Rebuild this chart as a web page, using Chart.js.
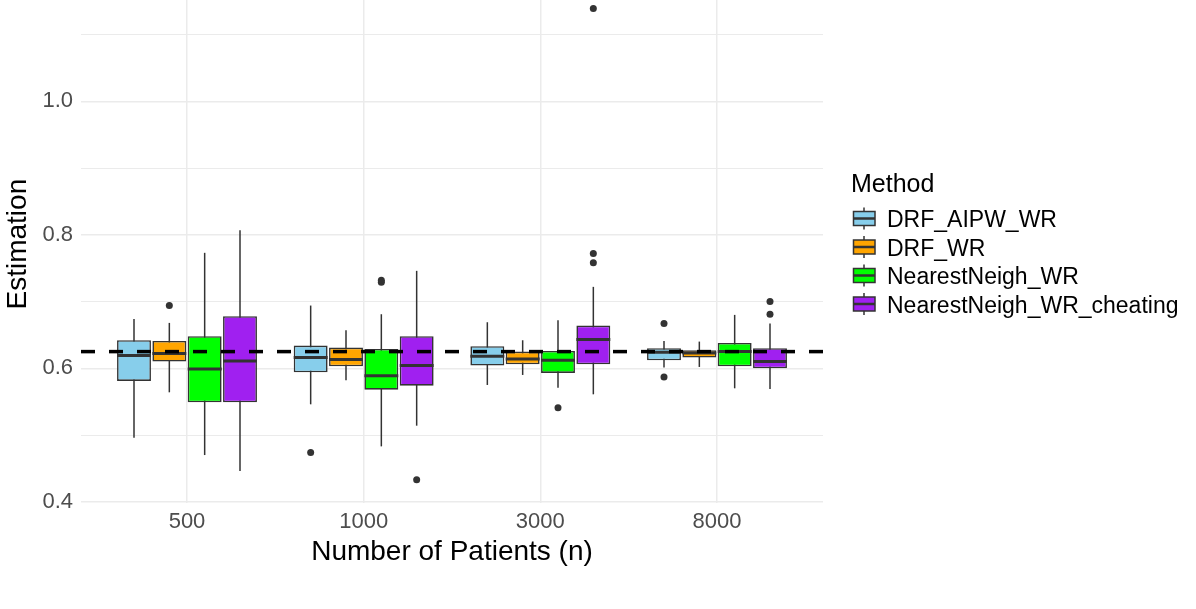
<!DOCTYPE html>
<html>
<head>
<meta charset="utf-8">
<script src="https://cdn.jsdelivr.net/npm/chart.js@4"></script>
<style>
  html, body { margin: 0; padding: 0; background: #fff; overflow: hidden; }
  #wrap { position: relative; width: 1196px; height: 609px; overflow: hidden; }
  #chart { position: absolute; left: 0; top: -15px; }
</style>
</head>
<body>
<div id="wrap"><canvas id="chart" width="1196" height="624"></canvas></div>
<script>
"use strict";

const CATEGORIES = ["500", "1000", "3000", "8000"];
const METHODS = ["DRF_AIPW_WR", "DRF_WR", "NearestNeigh_WR", "NearestNeigh_WR_cheating"];
const COLORS = ["#87CEEB", "#FFA500", "#00FF00", "#A020F0"];
const TRUE_VALUE = 0.625;
const Y_TICKS = [0.4, 0.5, 0.6, 0.7, 0.8, 0.9, 1.0, 1.1];
const Y_MAJOR = [0.4, 0.6, 0.8, 1.0];

// rows = methods, columns = sample sizes
const LOWER = [
  [0.496, 0.546, 0.575, 0.601],
  [0.564, 0.582, 0.590, 0.602],
  [0.470, 0.483, 0.571, 0.570],
  [0.446, 0.514, 0.561, 0.569],
];
const Q1 = [
  [0.581, 0.594, 0.604, 0.612],
  [0.610, 0.603, 0.606, 0.616],
  [0.549, 0.568, 0.593, 0.603],
  [0.549, 0.574, 0.606, 0.600],
];
const MEDIAN = [
  [0.619, 0.616, 0.618, 0.624],
  [0.622, 0.613, 0.614, 0.623],
  [0.599, 0.589, 0.612, 0.625],
  [0.611, 0.604, 0.643, 0.610],
];
const Q3 = [
  [0.642, 0.634, 0.633, 0.630],
  [0.641, 0.631, 0.625, 0.627],
  [0.648, 0.629, 0.626, 0.638],
  [0.678, 0.648, 0.664, 0.630],
];
const UPPER = [
  [0.674, 0.694, 0.669, 0.641],
  [0.668, 0.657, 0.642, 0.640],
  [0.773, 0.681, 0.672, 0.680],
  [0.807, 0.746, 0.722, 0.667],
];
const OUTLIERS = [
  [[], [0.474], [], [0.667, 0.587]],
  [[0.694], [], [], []],
  [[], [0.729, 0.732], [0.541], []],
  [[], [0.433], [1.139, 0.772, 0.758], [0.700, 0.681]],
];

const FONT = '"Liberation Sans", Arial, sans-serif';
const INK = "#333333";

function eachBox(chart, fn) {
  chart.data.datasets.forEach((ds, m) => {
    const meta = chart.getDatasetMeta(m);
    meta.data.forEach((el, i) => fn(el, m, i));
  });
}

const boxExtras = {
  id: "boxExtras",
  beforeDatasetsDraw(chart) {
    const ctx = chart.ctx, y = chart.scales.y;
    ctx.save();
    ctx.strokeStyle = INK;
    ctx.lineWidth = 1.5;
    eachBox(chart, (el, m, i) => {
      ctx.beginPath();
      ctx.moveTo(el.x, y.getPixelForValue(LOWER[m][i]));
      ctx.lineTo(el.x, y.getPixelForValue(UPPER[m][i]));
      ctx.stroke();
    });
    ctx.restore();
  },
  afterDatasetsDraw(chart) {
    const ctx = chart.ctx, y = chart.scales.y, area = chart.chartArea;
    ctx.save();
    ctx.strokeStyle = INK;
    ctx.fillStyle = INK;
    ctx.lineWidth = 3;
    eachBox(chart, (el, m, i) => {
      const py = y.getPixelForValue(MEDIAN[m][i]);
      ctx.beginPath();
      ctx.moveTo(el.x - el.width / 2, py);
      ctx.lineTo(el.x + el.width / 2, py);
      ctx.stroke();
      OUTLIERS[m][i].forEach(v => {
        ctx.beginPath();
        ctx.arc(el.x, y.getPixelForValue(v), 3.5, 0, Math.PI * 2);
        ctx.fill();
      });
    });
    // reference line
    const ty = y.getPixelForValue(TRUE_VALUE);
    ctx.strokeStyle = "#000";
    ctx.lineWidth = 3.5;
    ctx.setLineDash([14, 14]);
    ctx.beginPath();
    ctx.moveTo(area.left, ty);
    ctx.lineTo(area.right, ty);
    ctx.stroke();
    ctx.restore();
  },
};

const methodLegend = {
  id: "methodLegend",
  afterDraw(chart) {
    const ctx = chart.ctx;
    const off = 15;
    ctx.save();
    ctx.fillStyle = "#000";
    ctx.textBaseline = "alphabetic";
    ctx.textAlign = "left";
    ctx.font = "25px " + FONT;
    ctx.fillText("Method", 851, 192 + off);
    ctx.font = "23px " + FONT;
    METHODS.forEach((name, m) => {
      const base = 227 + off + m * 28.5;
      const cy = base - 8.5;
      ctx.strokeStyle = INK;
      ctx.lineWidth = 1.5;
      ctx.beginPath();
      ctx.moveTo(864, cy - 11);
      ctx.lineTo(864, cy + 11);
      ctx.stroke();
      ctx.fillStyle = COLORS[m];
      ctx.fillRect(853.5, cy - 7, 21.5, 14);
      ctx.strokeRect(853.5, cy - 7, 21.5, 14);
      ctx.lineWidth = 2.5;
      ctx.beginPath();
      ctx.moveTo(853.5, cy);
      ctx.lineTo(875, cy);
      ctx.stroke();
      ctx.fillStyle = "#000";
      ctx.fillText(name, 887, base);
    });
    ctx.restore();
  },
};

const datasets = METHODS.map((name, m) => ({
  label: name,
  data: CATEGORIES.map((c, i) => ({ x: i + 1, y: [Q1[m][i], Q3[m][i]] })),
  backgroundColor: COLORS[m],
  borderColor: INK,
  borderWidth: 1.6,
  borderSkipped: false,
  categoryPercentage: 0.8,
  barPercentage: 0.96,
}));

new Chart(document.getElementById("chart"), {
  type: "bar",
  data: { datasets },
  plugins: [boxExtras, methodLegend],
  options: {
    responsive: false,
    devicePixelRatio: 1,
    animation: false,
    layout: { padding: { left: 0, right: 373, top: 0, bottom: 0 } },
    plugins: { legend: { display: false }, tooltip: { enabled: false } },
    scales: {
      x: {
        type: "linear",
        min: 0.4,
        max: 4.6,
        offset: false,
        afterBuildTicks: (s) => { s.ticks = CATEGORIES.map((c, i) => ({ value: i + 1 })); },
        afterFit: (s) => { s.height = 105.7; s.paddingLeft = 0; s.paddingRight = 0; },
        border: { display: false },
        grid: { color: "#ebebeb", lineWidth: 1.5, drawTicks: false, offset: false },
        ticks: {
          autoSkip: false, maxRotation: 0, padding: 5, color: "#4d4d4d",
          font: { family: FONT, size: 22 },
          callback: (v) => CATEGORIES[Math.round(v) - 1],
        },
        title: {
          display: true, text: "Number of Patients (n)", color: "#000",
          font: { family: FONT, size: 28 }, padding: { top: 0, bottom: 40 },
        },
      },
      y: {
        min: 0.3977,
        max: 1.1743,
        afterBuildTicks: (s) => { s.ticks = Y_TICKS.map(v => ({ value: v })); },
        afterFit: (s) => { s.width = 81; s.paddingTop = 0; s.paddingBottom = 0; },
        border: { display: false },
        grid: {
          color: "#ebebeb",
          lineWidth: (c) => Y_MAJOR.some(v => Math.abs(v - c.tick.value) < 1e-6) ? 1.5 : 1.0,
          drawTicks: false,
        },
        ticks: {
          padding: 8, color: "#4d4d4d",
          font: { family: FONT, size: 22 },
          callback: (v) => Y_MAJOR.some(t => Math.abs(t - v) < 1e-6) ? v.toFixed(1) : "",
        },
        title: {
          display: true, text: "Estimation", color: "#000",
          font: { family: FONT, size: 28 }, padding: { top: 1.5, bottom: 0 },
        },
      },
    },
  },
});
</script>
</body>
</html>
